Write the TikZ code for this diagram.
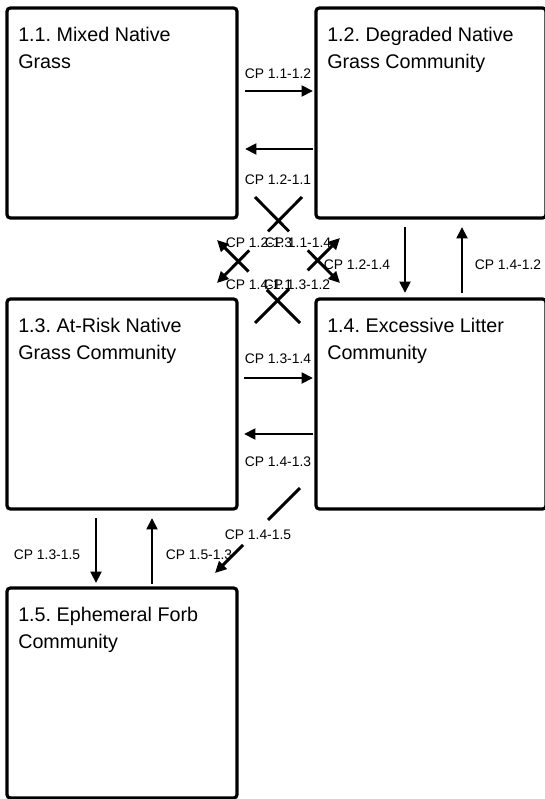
\documentclass[tikz,border=0pt]{standalone}
\usepackage{fontspec}
\setmainfont{Liberation Sans}
\usetikzlibrary{positioning, arrows.meta, calc}
\frenchspacing

\begin{document}
\begin{tikzpicture}[
    x=0.75pt, y=-0.75pt,
    statebox/.style={rectangle, draw=black, line width=2.4pt, rounded corners=2.5pt, minimum width=172.5pt, minimum height=157.5pt, inner sep=0pt, outer sep=0pt},
    statetext/.style={font=\fontsize{14.8}{20.25}\selectfont, align=left, inner sep=0pt},
    cplabel/.style={font=\fontsize{10.4}{12}\selectfont, inner sep=0pt},
    cpline/.style={line width=2.2pt},
    cparrow/.style={cpline, -{Triangle[length=8.5pt, width=8pt]}}
]
\useasboundingbox (0,0) rectangle (544,799);

\node[statebox](s1_1) at (122, 113) {};
\node[statebox](s1_2) at (431, 113) {};
\node[statebox](s1_3) at (122, 404) {};
\node[statebox](s1_4) at (431, 404) {};
\node[statebox](s1_5) at (122, 693) {};

\node[statetext, below right=14.25pt and 8.25pt of s1_1.north west](t1_1) {1.1. Mixed Native\\Grass};
\node[statetext, below right=14.25pt and 8.25pt of s1_2.north west](t1_2) {1.2. Degraded Native\\Grass Community};
\node[statetext, below right=14.25pt and 8.25pt of s1_3.north west](t1_3) {1.3. At-Risk Native\\Grass Community};
\node[statetext, below right=14.25pt and 8.25pt of s1_4.north west](t1_4) {1.4. Excessive Litter\\Community};
\node[statetext, below right=14.25pt and 8.25pt of s1_5.north west](t1_5) {1.5. Ephemeral Forb\\Community};

% horizontal
\draw[cparrow] ([shift={(8,83)}]s1_1.north east) -- ([shift={(-3,83)}]s1_2.north west);
\draw[cparrow] ([shift={(-3,141)}]s1_2.north west) -- ([shift={(8,141)}]s1_1.north east);
\draw[cparrow] ([shift={(7,79)}]s1_3.north east) -- ([shift={(-3,79)}]s1_4.north west);
\draw[cparrow] ([shift={(-3,135)}]s1_4.north west) -- ([shift={(7,135)}]s1_3.north east);

% vertical
\draw[cparrow] ([shift={(89,9)}]s1_2.south west) -- ([shift={(89,-6)}]s1_4.north west);
\draw[cparrow] ([shift={(146,-6)}]s1_4.north west) -- ([shift={(146,9)}]s1_2.south west);
\draw[cparrow] ([shift={(89,9)}]s1_3.south west) -- ([shift={(89,-5)}]s1_5.north west);
\draw[cparrow] ([shift={(145,-4)}]s1_5.north west) -- ([shift={(145,9)}]s1_3.south west);

% diagonal, broken in the middle
\coordinate (d11_14a) at ([shift={(18,-21)}]s1_1.south east);
\coordinate (d11_14b) at ([shift={(24,-16)}]s1_4.north west);
\coordinate (d12_13a) at ([shift={(-14,-21)}]s1_2.south west);
\coordinate (d12_13b) at ([shift={(-20,-16)}]s1_3.north east);
\coordinate (d13_12a) at ([shift={(18,24)}]s1_3.north east);
\coordinate (d13_12b) at ([shift={(24,20)}]s1_2.south west);
\coordinate (d14_11a) at ([shift={(-16,24)}]s1_4.north west);
\coordinate (d14_11b) at ([shift={(-20,22)}]s1_1.south east);
\coordinate (d14_15a) at ([shift={(-16,-21)}]s1_4.south west);
\coordinate (d14_15b) at ([shift={(-22,-15)}]s1_5.north east);

\draw[cpline] (d11_14a) -- ($(d11_14a)!.4!(d11_14b)$);
\draw[cparrow] ($(d11_14a)!.62!(d11_14b)$) -- (d11_14b);
\draw[cpline] (d12_13a) -- ($(d12_13a)!.4!(d12_13b)$);
\draw[cparrow] ($(d12_13a)!.62!(d12_13b)$) -- (d12_13b);
\draw[cpline] (d13_12a) -- ($(d13_12a)!.4!(d13_12b)$);
\draw[cparrow] ($(d13_12a)!.62!(d13_12b)$) -- (d13_12b);
\draw[cpline] (d14_11a) -- ($(d14_11a)!.4!(d14_11b)$);
\draw[cparrow] ($(d14_11a)!.62!(d14_11b)$) -- (d14_11b);
\draw[cpline] (d14_15a) -- ($(d14_15a)!.376!(d14_15b)$);
\draw[cparrow] ($(d14_15a)!.67!(d14_15b)$) -- (d14_15b);

\node[cplabel](l11_12) at (278, 74) {CP 1.1-1.2};
\node[cplabel](l12_11) at (278, 180) {CP 1.2-1.1};
\node[cplabel](l13_14) at (278, 359) {CP 1.3-1.4};
\node[cplabel](l14_13) at (278, 462) {CP 1.4-1.3};
\node[cplabel](l12_14) at (357, 265) {CP 1.2-1.4};
\node[cplabel](l14_12) at (508, 265) {CP 1.4-1.2};
\node[cplabel](l13_15) at (47, 555) {CP 1.3-1.5};
\node[cplabel](l15_13) at (199, 555) {CP 1.5-1.3};
\node[cplabel](l12_13) at (259, 243) {CP 1.2-1.3};
\node[cplabel](l11_14) at (298, 243) {CP 1.1-1.4};
\node[cplabel](l14_11) at (259, 285) {CP 1.4-1.1};
\node[cplabel](l13_12) at (297, 285) {CP 1.3-1.2};
\node[cplabel](l14_15) at (258, 535) {CP 1.4-1.5};
\end{tikzpicture}
\end{document}
